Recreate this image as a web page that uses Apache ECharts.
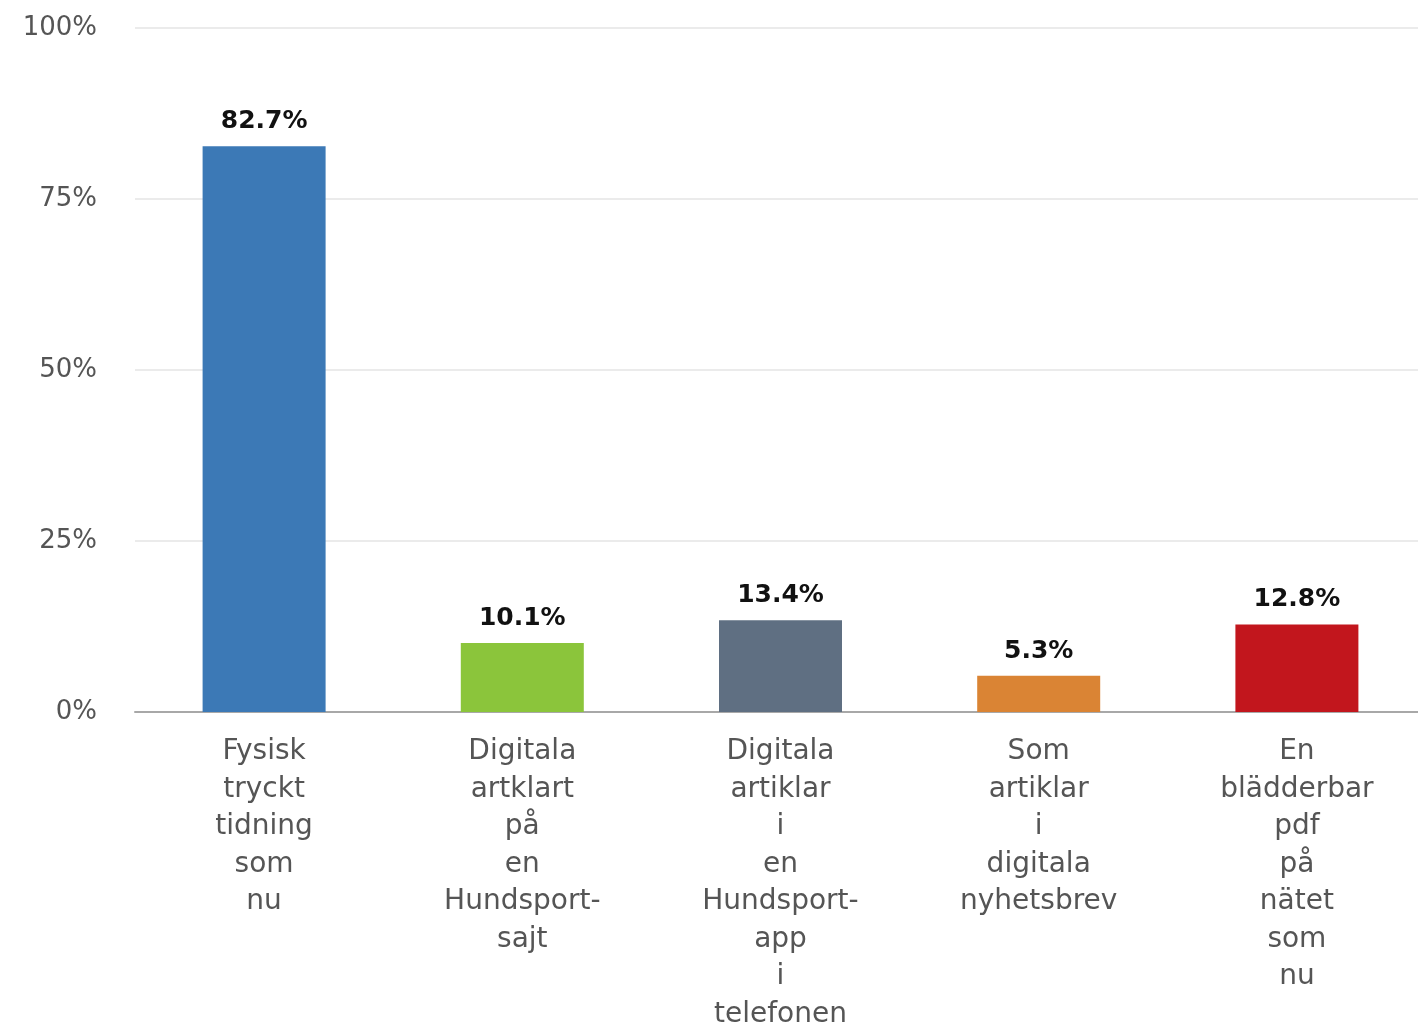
<!DOCTYPE html>
<html>
<head>
<meta charset="utf-8">
<script src="https://cdn.jsdelivr.net/npm/echarts@6/dist/echarts.min.js"></script>
<style>
html,body{margin:0;padding:0;background:#fff;overflow:hidden;}
#chart{width:1418px;height:1028px;}
</style>
</head>
<body>
<div id="chart"></div>
<script>
const categories = [
  "Fysisk tryckt tidning som nu",
  "Digitala artklart på en Hundsport- sajt",
  "Digitala artiklar i en Hundsport- app i telefonen",
  "Som artiklar i digitala nyhetsbrev",
  "En blädderbar pdf på nätet som nu"
];
const values = [82.7, 10.1, 13.4, 5.3, 12.8];
const barColors = ["#3c79b6", "#8bc53b", "#5f6f82", "#da8434", "#c2161d"];
const yTicks = [0, 25, 50, 75, 100];

const chart = echarts.init(document.getElementById('chart'));
chart.setOption({
  animation: false,
  backgroundColor: '#ffffff',
  grid: { left: 135, right: -8, top: 28, bottom: 316, containLabel: false, outerBoundsMode: 'none' },
  xAxis: {
    type: 'category',
    data: categories,
    axisLine: { show: true, lineStyle: { color: '#a8a8a8', width: 2 } },
    axisTick: { show: false },
    axisLabel: {
      interval: 0,
      margin: 21,
      color: '#555555',
      fontFamily: 'DejaVu Sans',
      fontSize: 28,
      lineHeight: 37.5,
      formatter: v => v.split(' ').join('\n')
    }
  },
  yAxis: {
    type: 'value',
    min: yTicks[0],
    max: yTicks[yTicks.length - 1],
    interval: 25,
    axisLine: { show: false },
    axisTick: { show: false },
    splitLine: { lineStyle: { color: '#ebebeb', width: 2 } },
    axisLabel: {
      margin: 38,
      padding: [8, 0, 0, 0],
      color: '#555555',
      fontFamily: 'DejaVu Sans',
      fontSize: 26,
      formatter: v => v + '%'
    }
  },
  series: [{
    type: 'bar',
    data: values.map((v, i) => ({ value: v, itemStyle: { color: barColors[i] } })),
    barWidth: 123,
    label: {
      show: true,
      position: 'top',
      distance: 12,
      color: '#111111',
      fontFamily: 'DejaVu Sans',
      fontWeight: 'bold',
      fontSize: 25,
      formatter: p => p.value.toFixed(1) + '%'
    }
  }]
});
</script>
</body>
</html>
